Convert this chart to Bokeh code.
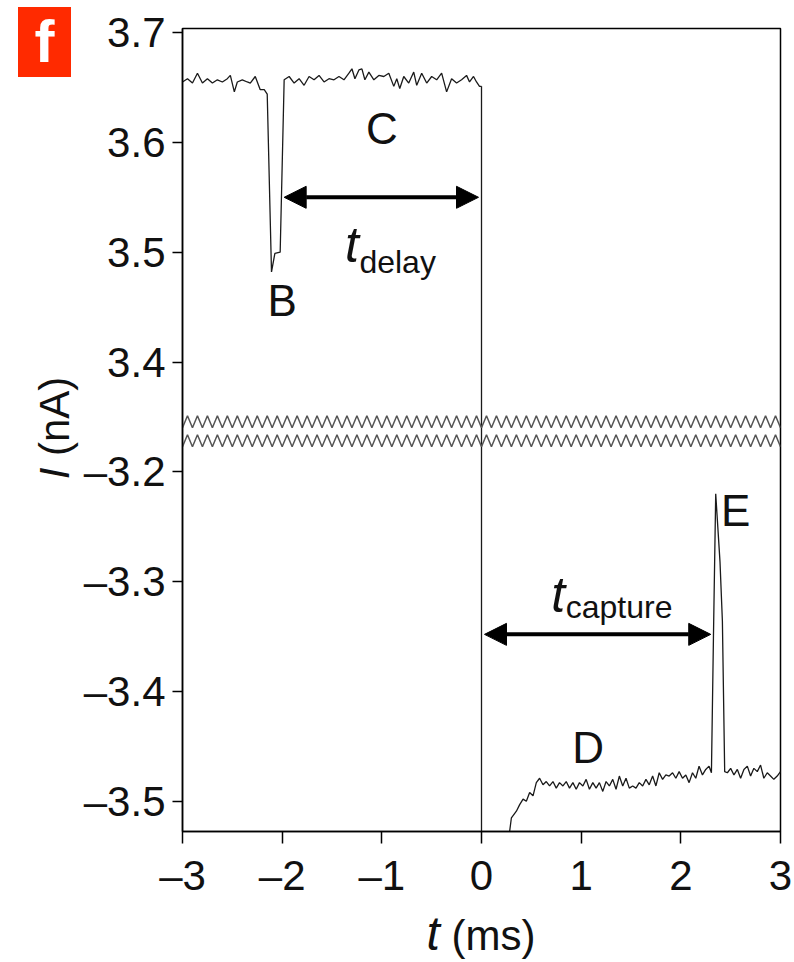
import numpy as np
from bokeh.plotting import figure
from bokeh.layouts import column, row
from bokeh.models import Range1d, FixedTicker, Arrow, NormalHead, Label, Div
from bokeh.embed import file_html
from bokeh.resources import INLINE

FONT = "Liberation Sans"

# ---------------- data ----------------
# upper trace (before t = 0), current in nA
t_top = [-3.00, -2.95, -2.90, -2.85, -2.80, -2.75, -2.70, -2.65, -2.60, -2.55,
         -2.52, -2.48, -2.45, -2.40, -2.35, -2.32, -2.27, -2.22, -2.18, -2.15,
         -2.107, -2.073, -2.02, -1.98, -1.93, -1.88, -1.83, -1.78, -1.73, -1.68,
         -1.63, -1.58, -1.53, -1.48, -1.43, -1.38, -1.33, -1.30, -1.27, -1.23,
         -1.20, -1.17, -1.13, -1.08, -1.03, -0.98, -0.93, -0.88, -0.85, -0.82,
         -0.78, -0.73, -0.68, -0.65, -0.60, -0.55, -0.50, -0.45, -0.40, -0.35,
         -0.30, -0.25, -0.20, -0.15, -0.12, -0.08, -0.05, -0.02, 0.00]
i_top = [3.655, 3.658, 3.654, 3.663, 3.654, 3.658, 3.654, 3.657, 3.655, 3.658,
         3.661, 3.646, 3.655, 3.657, 3.655, 3.654, 3.660, 3.648, 3.648, 3.644,
         3.482, 3.499, 3.500, 3.657, 3.660, 3.654, 3.658, 3.652, 3.660, 3.657,
         3.661, 3.655, 3.658, 3.657, 3.660, 3.657, 3.663, 3.667, 3.658, 3.666,
         3.667, 3.657, 3.664, 3.657, 3.661, 3.660, 3.663, 3.651, 3.658, 3.649,
         3.660, 3.654, 3.664, 3.652, 3.663, 3.654, 3.660, 3.657, 3.663, 3.646,
         3.658, 3.654, 3.657, 3.661, 3.655, 3.660, 3.655, 3.651, 3.651]

# lower trace (after t = 0), current in nA
t_low = [0.00, 0.27, 0.283, 0.30, 0.35, 0.383, 0.417, 0.45, 0.483, 0.517,
         0.55, 0.583, 0.617, 0.65, 0.683, 0.717, 0.75, 0.783, 0.817, 0.85,
         0.883, 0.917, 0.95, 0.983, 1.017, 1.05, 1.083, 1.117, 1.15, 1.183,
         1.217, 1.25, 1.283, 1.317, 1.35, 1.383, 1.417, 1.45, 1.483, 1.517,
         1.55, 1.583, 1.617, 1.65, 1.683, 1.717, 1.75, 1.783, 1.817, 1.85,
         1.883, 1.917, 1.95, 1.983, 2.017, 2.05, 2.083, 2.117, 2.15, 2.183,
         2.217, 2.25, 2.283, 2.307, 2.327, 2.35, 2.393, 2.417, 2.44, 2.467,
         2.50, 2.533, 2.567, 2.60, 2.633, 2.667, 2.70, 2.733, 2.767, 2.80,
         2.833, 2.867, 2.90, 2.933, 2.967, 3.00]
i_low = [-3.600, -3.560, -3.527, -3.515, -3.509, -3.503, -3.498, -3.500, -3.492, -3.495,
         -3.483, -3.479, -3.485, -3.482, -3.486, -3.482, -3.488, -3.483, -3.486, -3.482,
         -3.488, -3.483, -3.489, -3.483, -3.486, -3.480, -3.489, -3.483, -3.488, -3.483,
         -3.491, -3.482, -3.486, -3.480, -3.489, -3.477, -3.486, -3.479, -3.488, -3.486,
         -3.488, -3.483, -3.486, -3.480, -3.485, -3.477, -3.486, -3.474, -3.480, -3.476,
         -3.477, -3.474, -3.479, -3.473, -3.479, -3.476, -3.483, -3.474, -3.479, -3.468,
         -3.476, -3.471, -3.468, -3.474, -3.352, -3.220, -3.282, -3.336, -3.473, -3.474,
         -3.470, -3.476, -3.471, -3.479, -3.471, -3.468, -3.477, -3.470, -3.473, -3.467,
         -3.479, -3.474, -3.477, -3.480, -3.477, -3.473]

x_ticks = [-3, -2, -1, 0, 1, 2, 3]
x_tick_labels = ["\u20133", "\u20132", "\u20131", "0", "1", "2", "3"]
y_ticks_high = [3.4, 3.5, 3.6, 3.7]
y_tick_labels_high = ["3.4", "3.5", "3.6", "3.7"]
y_ticks_low = [-3.5, -3.4, -3.3, -3.2]
y_tick_labels_low = ["\u20133.5", "\u20133.4", "\u20133.3", "\u20133.2"]

# double arrows: (t_start, t_end, level in nA)
delay_arrow = (-1.98, -0.03, 3.55)
capture_arrow = (0.03, 2.30, -3.348)

# ---------------- layout sizes (px) ----------------
W, H = 794, 962
LW = 80            # strip left of the main figure (panel letter, y title)
BH = 57            # strip below the main figure (x title)
MW, MH = W - LW, H - BH

# ---------------- broken y axis set-up ----------------
SHIFT = 6.5                      # lower panel is displayed shifted up by this amount
Y_HIGH = (2.9725, 3.7037)
Y_LOW = (Y_HIGH[0] - SHIFT, Y_HIGH[1] - SHIFT)
BREAK_LEVELS = (3.3456, 3.3283)  # positions of the two zig-zag break marks

p = figure(width=MW, height=MH, x_range=Range1d(-3, 3), y_range=Range1d(*Y_HIGH),
           output_backend="svg", toolbar_location=None,
           min_border_left=100, min_border_right=14, min_border_top=28, min_border_bottom=74,
           background_fill_color="white", border_fill_color="white")
p.extra_y_ranges = {"low": Range1d(*Y_LOW)}
p.grid.visible = False
p.outline_line_color = "black"
p.outline_line_width = 1.5
p.outline_line_alpha = 1.0

# axes
p.xaxis.ticker = FixedTicker(ticks=x_ticks)
p.xaxis.major_label_overrides = {t: s for t, s in zip(x_ticks, x_tick_labels)}
ypos = [round(v, 4) for v in y_ticks_high] + [round(v + SHIFT, 4) for v in y_ticks_low]
ylab = y_tick_labels_high + y_tick_labels_low
p.yaxis.ticker = FixedTicker(ticks=ypos)
p.yaxis.major_label_overrides = {t: s for t, s in zip(ypos, ylab)}
for ax in (p.xaxis, p.yaxis):
    ax.axis_line_color = "black"
    ax.axis_line_width = 1.5
    ax.major_tick_line_color = "black"
    ax.major_tick_line_width = 1.5
    ax.major_tick_in = 0
    ax.minor_tick_line_color = None
    ax.major_label_text_font = FONT
    ax.major_label_text_font_size = "42px"
    ax.major_label_text_color = "#111111"
p.xaxis.major_tick_out = 12
p.xaxis.major_label_standoff = 8
p.yaxis.major_tick_out = 10
p.yaxis.major_label_standoff = 7

# traces
trace_color = "#1a1a1a"
p.line(t_top, i_top, line_color=trace_color, line_width=1.3)
# switching step at t = 0, from the upper trace down to the lower one (off scale)
p.line([t_top[-1], t_low[0]], [i_top[-1], i_low[0] + SHIFT], line_color=trace_color, line_width=1.3)
p.line(t_low, i_low, line_color=trace_color, line_width=1.3, y_range_name="low")

# zig-zag break marks
zz_x = np.arange(-3.0, 3.0001, 0.05)
zz_off = np.where(np.arange(len(zz_x)) % 2 == 0, -0.0055, 0.0055)
for lvl in BREAK_LEVELS:
    p.line(zz_x, lvl + zz_off, line_color="#555555", line_width=1.5)

# arrows
def head():
    return NormalHead(size=22, fill_color="black", line_color="black", line_width=1)

p.add_layout(Arrow(x_start=delay_arrow[0], x_end=delay_arrow[1], y_start=delay_arrow[2],
                   y_end=delay_arrow[2], start=head(), end=head(), line_width=4, line_color="black"))
p.add_layout(Arrow(x_start=capture_arrow[0], x_end=capture_arrow[1], y_start=capture_arrow[2],
                   y_end=capture_arrow[2], start=head(), end=head(), line_width=4, line_color="black",
                   y_range_name="low"))

def lab(x, y, text, size, style="normal", align="center", rng="default"):
    p.add_layout(Label(x=x, y=y, text=text, text_font=FONT, text_font_size=size, text_font_style=style,
                       text_align=align, text_baseline="middle", text_color="#111111",
                       y_range_name=rng))

# point labels
lab(-1.0, 3.613, "C", "44px")
lab(-2.0, 3.456, "B", "44px")
lab(1.07, -3.451, "D", "44px", rng="low")
lab(2.55, -3.235, "E", "44px", rng="low")
# t_delay
lab(-1.30, 3.5063, "t", "50px", style="italic")
lab(-1.225, 3.4907, "delay", "32px", align="left")
# t_capture
lab(0.77, -3.3124, "t", "50px", style="italic", rng="low")
lab(0.845, -3.3235, "capture", "32px", align="left", rng="low")

# ---------------- left strip: panel letter and y-axis title ----------------
left_html = (
    f'<div style="position:relative;width:{LW}px;height:{MH}px;font-family:\'{FONT}\',sans-serif;color:#111111;">'
    '<div style="position:absolute;left:18px;top:7px;width:53px;height:70px;background:#FF2A00;'
    'color:#ffffff;font-weight:bold;font-size:60px;line-height:70px;text-align:center;">f</div>'
    '<div style="position:absolute;left:55px;top:428px;width:0;height:0;transform:rotate(-90deg);">'
    '<span style="position:absolute;left:0;top:0;transform:translate(-50%,-50%);white-space:nowrap;'
    'font-size:42px;line-height:1;"><i>I</i> (nA)</span></div></div>'
)
left = Div(text=left_html, width=LW, height=MH, margin=0)

# ---------------- bottom strip: x-axis title ----------------
bottom_html = (
    f'<div style="position:relative;width:{W}px;height:{BH}px;font-family:\'{FONT}\',sans-serif;color:#111111;">'
    '<span style="position:absolute;left:481px;top:5px;transform:translateX(-50%);white-space:nowrap;'
    'font-size:42px;line-height:1;"><i style="font-size:48px;">t</i> (ms)</span></div>'
)
bottom = Div(text=bottom_html, width=W, height=BH, margin=0)

layout = column(row(left, p, margin=0), bottom, margin=0)
open("out.html", "w").write(file_html(layout, INLINE))
